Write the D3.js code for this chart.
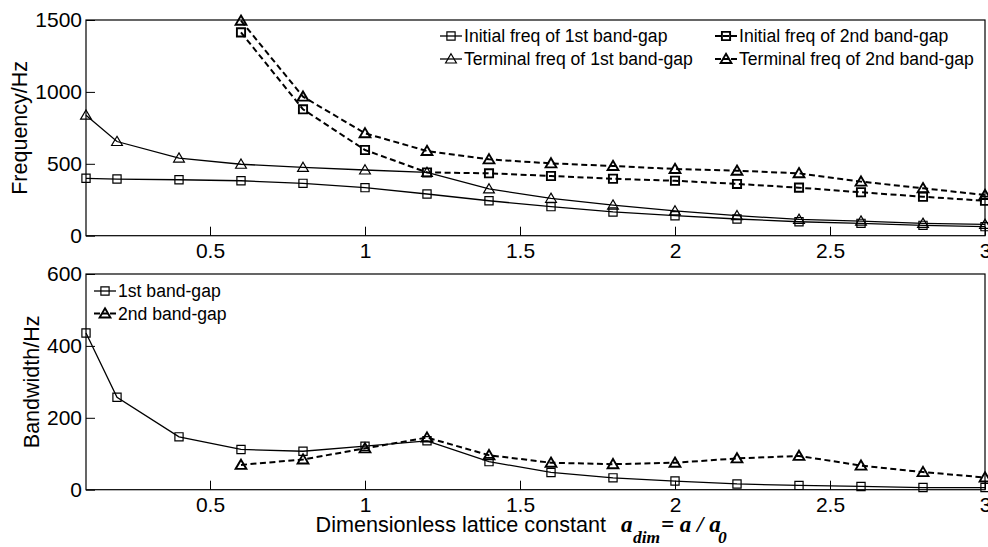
<!DOCTYPE html>
<html>
<head>
<meta charset="utf-8">
<script src="https://cdn.jsdelivr.net/npm/d3@7"></script>
<style>
  html, body { margin: 0; padding: 0; background: #fff; }
  svg { display: block; }
</style>
</head>
<body>
<svg id="chart" width="988" height="547"></svg>
<script>
// ---------- data ----------
const xAll = [0.1, 0.2, 0.4, 0.6, 0.8, 1.0, 1.2, 1.4, 1.6, 1.8, 2.0, 2.2, 2.4, 2.6, 2.8, 3.0];
const x2nd = [0.6, 0.8, 1.0, 1.2, 1.4, 1.6, 1.8, 2.0, 2.2, 2.4, 2.6, 2.8, 3.0];

const initial1st  = [399, 394, 389, 382, 364, 334, 290, 243, 202, 165, 139, 116, 97, 86, 72, 63];
const terminal1st = [838, 655, 540, 497, 475, 457, 440, 325, 260, 213, 172, 139, 114, 102, 86, 79];
const initial2nd  = [1414, 879, 596, 440, 434, 415, 396, 382, 360, 334, 302, 271, 243];
const terminal2nd = [1495, 967, 712, 589, 531, 503, 485, 464, 452, 434, 376, 330, 283];

const band1st = [436, 257, 147, 112, 107, 121, 136, 78, 48, 33, 24, 16, 12, 9, 6, 6];
const band2nd = [69, 84, 115, 145, 96, 75, 71, 75, 87, 94, 67, 49, 34];

const xTicks = [0.5, 1, 1.5, 2, 2.5, 3];
const yTicksTop = [0, 500, 1000, 1500];
const yTicksBottom = [0, 200, 400, 600];

const legendTop = [
  "Initial freq of 1st band-gap", "Terminal freq of 1st band-gap",
  "Initial freq of 2nd band-gap", "Terminal freq of 2nd band-gap"
];
const legendBottom = ["1st band-gap", "2nd band-gap"];

// ---------- layout ----------
const SANS = "'Liberation Sans', Arial, sans-serif";
const SERIF = "'Liberation Serif', 'Times New Roman', serif";
const svg = d3.select("#chart");
const L = 86, R = 985;
const top1 = 20, bot1 = 235.7;
const top2 = 274, bot2 = 489.7;

const x = d3.scaleLinear().domain([0.1, 3]).range([L, R]);
const y1 = d3.scaleLinear().domain([0, 1500]).range([bot1, top1]);
const y2 = d3.scaleLinear().domain([0, 600]).range([bot2, top2]);

const FS_TICK = 21;

function drawAxes(yScale, yTicks, yTop, yBot) {
  const gx = svg.append("g").attr("transform", `translate(0,${yBot})`)
    .call(d3.axisBottom(x).tickValues(xTicks).tickFormat(d3.format("~g"))
      .tickSizeInner(-9).tickSizeOuter(0).tickPadding(7));
  const gy = svg.append("g").attr("transform", `translate(${L},0)`)
    .call(d3.axisLeft(yScale).tickValues(yTicks).tickFormat(d3.format("d"))
      .tickSizeInner(-9).tickSizeOuter(0).tickPadding(4));
  [gx, gy].forEach(g => {
    g.attr("font-family", null).attr("font-size", null);
    g.selectAll("path.domain").remove();
    g.selectAll("line").attr("stroke", "#000").attr("stroke-width", 1);
    g.selectAll("text").style("font-size", FS_TICK + "px")
      .style("font-family", SANS).attr("fill", "#000");
  });
  svg.append("rect").attr("x", L).attr("y", yTop)
    .attr("width", R - L).attr("height", yBot - yTop)
    .attr("fill", "none").attr("stroke", "#000").attr("stroke-width", 1.2);
}

function squarePath(cx, cy) {
  const s = 4.1;
  return `M${cx - s},${cy - s}H${cx + s}V${cy + s}H${cx - s}Z`;
}
function trianglePath(cx, cy) {
  return `M${cx},${cy - 5.2}L${cx + 5.4},${cy + 4}L${cx - 5.4},${cy + 4}Z`;
}

function drawSeries(xs, ys, yScale, dashed, marker) {
  const line = d3.line().x((d, i) => x(xs[i])).y(d => yScale(d));
  svg.append("path").datum(ys)
    .attr("d", line).attr("fill", "none").attr("stroke", "#000")
    .attr("stroke-width", dashed ? 2 : 1.3)
    .attr("stroke-dasharray", dashed ? "6,3.5" : null);
  const mk = marker === "square" ? squarePath : trianglePath;
  svg.append("g").selectAll("path").data(ys).join("path")
    .attr("d", (d, i) => mk(x(xs[i]), yScale(d)))
    .attr("fill", "none").attr("stroke", "#000")
    .attr("stroke-width", dashed ? 1.9 : 1.2);
}

function sansText(xx, yy, fs, str) {
  return svg.append("text").attr("x", xx).attr("y", yy)
    .style("font-family", SANS).style("font-size", fs + "px").attr("fill", "#000").text(str);
}

function legendItem(x0, yc, label, dashed, marker) {
  const lw = dashed ? 2 : 1.3;
  const segs = dashed ? [[0, 6], [8, 14], [16, 22]] : [[0, 22]];
  segs.forEach(s => svg.append("line").attr("x1", x0 + s[0]).attr("x2", x0 + s[1])
    .attr("y1", yc).attr("y2", yc).attr("stroke", "#000").attr("stroke-width", lw));
  const mk = marker === "square" ? squarePath : trianglePath;
  svg.append("path").attr("d", mk(x0 + 11, yc)).attr("fill", "none")
    .attr("stroke", "#000").attr("stroke-width", dashed ? 1.9 : 1.2);
  sansText(x0 + 24, yc, 17.6, label).attr("dy", "0.36em");
}

// ---------- top panel ----------
drawAxes(y1, yTicksTop, top1, bot1);
drawSeries(xAll, initial1st, y1, false, "square");
drawSeries(xAll, terminal1st, y1, false, "triangle");
drawSeries(x2nd, initial2nd, y1, true, "square");
drawSeries(x2nd, terminal2nd, y1, true, "triangle");

legendItem(440, 36, legendTop[0], false, "square");
legendItem(440, 59, legendTop[1], false, "triangle");
legendItem(715, 36, legendTop[2], true, "square");
legendItem(715, 59, legendTop[3], true, "triangle");

sansText(0, 0, 21.5, "Frequency/Hz")
  .attr("transform", `translate(27,${(top1 + bot1) / 2}) rotate(-90)`)
  .attr("text-anchor", "middle");

// ---------- bottom panel ----------
drawAxes(y2, yTicksBottom, top2, bot2);
drawSeries(xAll, band1st, y2, false, "square");
drawSeries(x2nd, band2nd, y2, true, "triangle");

legendItem(94, 291, legendBottom[0], false, "square");
legendItem(94, 313.5, legendBottom[1], true, "triangle");

sansText(0, 0, 21.5, "Bandwidth/Hz")
  .attr("transform", `translate(39,${(top2 + bot2) / 2}) rotate(-90)`)
  .attr("text-anchor", "middle");

// ---------- x label ----------
sansText(606, 532, 21.6, "Dimensionless lattice constant").attr("text-anchor", "end");
function mathText(xx, yy, fs, str) {
  svg.append("text").attr("x", xx).attr("y", yy)
    .style("font-family", SERIF).style("font-style", "italic").style("font-weight", "bold")
    .style("font-size", fs + "px").attr("fill", "#000").text(str);
}
mathText(621, 532, 23, "a");
mathText(633, 542.5, 17.5, "dim");
mathText(661, 532, 23, "= a / a");
mathText(718, 542.5, 17.5, "0");
</script>
</body>
</html>
